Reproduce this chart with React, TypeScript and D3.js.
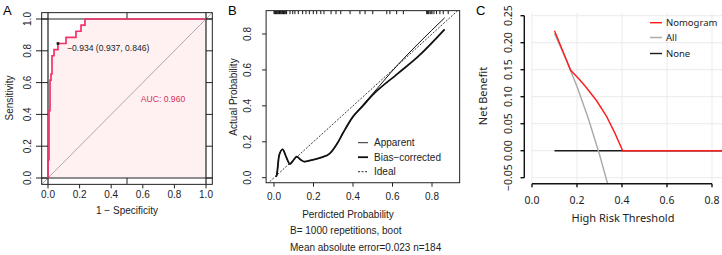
import React from "react";
import * as d3 from "d3";

// ---------- Panel A: ROC ----------
const rocFpr = [0, 0, 0.0063, 0.0127, 0.019, 0.0253, 0.038, 0.063, 0.114, 0.177, 0.209, 0.234, 1];
const rocTpr = [0, 0.115, 0.423, 0.615, 0.654, 0.769, 0.808, 0.846, 0.885, 0.923, 0.962, 1, 1];
const rocTicks = [0, 0.2, 0.4, 0.6, 0.8, 1.0];
const thrValue = -0.934;
const thrSpec = 0.937;
const thrSens = 0.846;
const aucValue = 0.96;

// ---------- Panel B: calibration ----------
const calX = [0.01, 0.014, 0.026, 0.044, 0.06, 0.081, 0.1, 0.115, 0.135, 0.153, 0.19, 0.241, 0.283, 0.32, 0.35, 0.4, 0.45, 0.49, 0.628, 0.729, 0.864];
const biasY = [0.005, 0.015, 0.125, 0.158, 0.12, 0.076, 0.1, 0.117, 0.1, 0.089, 0.098, 0.113, 0.135, 0.19, 0.25, 0.34, 0.4, 0.45, 0.581, 0.674, 0.826];
const apparentY = [0.005, 0.015, 0.125, 0.158, 0.12, 0.076, 0.1, 0.117, 0.1, 0.089, 0.098, 0.113, 0.135, 0.19, 0.25, 0.34, 0.405, 0.455, 0.63, 0.745, 0.89];
const rugX = [0.0, 0.004, 0.008, 0.012, 0.016, 0.02, 0.024, 0.028, 0.032, 0.036, 0.04, 0.044, 0.048, 0.052, 0.056, 0.06, 0.064,
  0.081, 0.095, 0.106, 0.123, 0.145, 0.162, 0.179, 0.199, 0.216, 0.237, 0.253, 0.289, 0.314, 0.338, 0.385, 0.435, 0.461, 0.5,
  0.571, 0.587, 0.621, 0.655, 0.773, 0.778, 0.783, 0.79, 0.795, 0.8, 0.81, 0.823, 0.84, 0.857, 0.882];
const calTicks = [0, 0.2, 0.4, 0.6, 0.8];
const calLegend = ["Apparent", "Bias\u2212corrected", "Ideal"];

// ---------- Panel C: DCA ----------
const ntX = [0.1, 0.172, 0.213, 0.243, 0.288, 0.332, 0.369, 0.403, 0.5, 0.6, 0.7, 0.8, 0.86];
const ntY = [0.222, 0.149, 0.131, 0.116, 0.092, 0.063, 0.032, 0, 0, 0, 0, 0, 0];
const allX = [0.1, 0.15, 0.2, 0.25, 0.3, 0.336];
const allY = [0.217, 0.17, 0.119, 0.06, -0.007, -0.061];
const noneX = [0.1, 0.86];
const noneY = [0, 0];
const dcaXTicks = [0, 0.2, 0.4, 0.6, 0.8];
const dcaYTicks = [-0.05, 0, 0.05, 0.1, 0.15, 0.2, 0.25];
const dcaLegend = ["Nomogram", "All", "None"];

const FA = "'Liberation Sans', Arial, Helvetica, sans-serif";
const FC = "'Noto Sans', 'Open Sans', sans-serif";
const ROC = "#F5316A";

export default function App() {
  // Panel A scales
  const ax = d3.scaleLinear().domain([0, 1]).range([48, 206]);
  const ay = d3.scaleLinear().domain([0, 1]).range([178, 19]);
  const aL = ax(-0.04), aR = ax(1.04), aT = ay(1.04), aB = ay(-0.04);
  const rocPts = rocFpr.map((f, i) => [f, rocTpr[i]] as [number, number]);
  const rocLine = d3.line<[number, number]>().x(d => ax(d[0])).y(d => ay(d[1])).curve(d3.curveStepAfter);
  const rocArea = d3.area<[number, number]>().x(d => ax(d[0])).y0(ay(0)).y1(d => ay(d[1])).curve(d3.curveStepAfter);
  const thrX = ax(1 - thrSpec), thrY = ay(thrSens);

  // Panel B scales
  const bx = d3.scaleLinear().domain([0, 0.8]).range([274, 432]);
  const by = d3.scaleLinear().domain([0, 0.8]).range([177.7, 34]);
  const bL = bx(-0.04), bR = bx(0.94), bT = by(0.93), bB = by(-0.028);
  const calLine = (ys: number[]) =>
    d3.line<number>().x((_, i) => bx(calX[i])).y(d => by(d)).curve(d3.curveMonotoneX)(ys) || "";

  // Panel C scales
  const cx = d3.scaleLinear().domain([0, 0.8]).range([532, 712]);
  const cy = d3.scaleLinear().domain([-0.05, 0.25]).range([177.7, 15.7]);
  const cBottom = 183.7;
  const cLine = (xs: number[], ys: number[]) =>
    d3.line<number>().x((_, i) => cx(xs[i])).y(d => cy(d))(ys) || "";

  const legB = [142.7, 157.2, 171.7];
  const legC = [22.7, 37.5, 53.5];
  const legCColors = ["#FF1A1A", "#A8A8A8", "#1A1A1A"];

  return (
    <svg width={722} height={255} style={{ position: "absolute", left: 0, top: 0, background: "#fff" }}>
      <defs>
        <clipPath id="clipA"><rect x={aL} y={aT} width={aR - aL} height={aB - aT} /></clipPath>
        <clipPath id="clipB"><rect x={bL} y={bT} width={bR - bL} height={bB - bT} /></clipPath>
        <clipPath id="clipC"><rect x={520} y={0} width={202} height={cBottom - 0} /></clipPath>
      </defs>
      <rect x={0} y={0} width={722} height={255} fill="#fff" />

      {/* Panel letters */}
      <text x={3} y={15} fontFamily={FA} fontSize={13}>A</text>
      <text x={228} y={15} fontFamily={FA} fontSize={13}>B</text>
      <text x={476} y={15} fontFamily={FA} fontSize={13}>C</text>

      {/* ===== Panel A ===== */}
      <g clipPath="url(#clipA)">
        <path d={rocArea(rocPts) || ""} fill="#FFF1F1" />
        <line x1={ax(-0.04)} y1={ay(-0.04)} x2={ax(1.04)} y2={ay(1.04)} stroke="#AAAAAA" strokeWidth={1} />
      </g>
      <rect x={aL} y={aT} width={aR - aL} height={aB - aT} fill="none" stroke="#222" strokeWidth={1} />
      <line x1={aL} x2={aR} y1={ay(0)} y2={ay(0)} stroke="#222" strokeWidth={1.2} />
      <line x1={aL} x2={aR} y1={ay(1)} y2={ay(1)} stroke="#222" strokeWidth={1.2} />
      <line x1={ax(0)} x2={ax(0)} y1={aT} y2={aB} stroke="#222" strokeWidth={1.2} />
      <line x1={ax(1)} x2={ax(1)} y1={aT} y2={aB} stroke="#222" strokeWidth={1.2} />
      <line x1={ax(0.5)} x2={ax(0.5)} y1={aT} y2={ay(1)} stroke="#222" strokeWidth={1} />
      <line x1={ax(0.5)} x2={ax(0.5)} y1={ay(0)} y2={aB} stroke="#222" strokeWidth={1} />
      {rocTicks.map(t => (
        <g key={"ay" + t}>
          <line x1={36} x2={ax(0)} y1={ay(t)} y2={ay(t)} stroke="#222" strokeWidth={1} />
          <line x1={ax(1)} x2={aR} y1={ay(t)} y2={ay(t)} stroke="#222" strokeWidth={1} />
          <text transform={`translate(${31},${ay(t)}) rotate(-90)`} textAnchor="middle" fontFamily={FA} fontSize={10} fill="#222">{t.toFixed(1)}</text>
          <line x1={ax(t)} x2={ax(t)} y1={aB} y2={aB + 4} stroke="#222" strokeWidth={1} />
          <text x={ax(t)} y={197.5} textAnchor="middle" fontFamily={FA} fontSize={10} fill="#222">{t.toFixed(1)}</text>
        </g>
      ))}
      <path d={rocLine(rocPts) || ""} fill="none" stroke={ROC} strokeWidth={1.7} />
      <rect x={thrX - 1.3} y={thrY - 1.3} width={2.6} height={2.6} fill="#111" />
      <text x={thrX + 9} y={thrY + 8} fontFamily={FA} fontSize={8.6} fill="#222">
        {`\u2212${Math.abs(thrValue).toFixed(3)} (${thrSpec.toFixed(3)}, ${thrSens.toFixed(3)})`}
      </text>
      <text x={163} y={102} textAnchor="middle" fontFamily={FA} fontSize={8.6} fill="#D2305C">{`AUC: ${aucValue.toFixed(3)}`}</text>
      <text transform={`translate(13,98) rotate(-90)`} textAnchor="middle" fontFamily={FA} fontSize={10} fill="#222">Sensitivity</text>
      <text x={127} y={213.5} textAnchor="middle" fontFamily={FA} fontSize={10} fill="#222">1 − Specificity</text>

      {/* ===== Panel B ===== */}
      <g clipPath="url(#clipB)">
        <line x1={bx(-0.1)} y1={by(-0.1)} x2={bx(1)} y2={by(1)} stroke="#222" strokeWidth={0.9} strokeDasharray="2,1.5" />
        <path d={calLine(apparentY)} fill="none" stroke="#111" strokeWidth={1} />
        <path d={calLine(biasY)} fill="none" stroke="#111" strokeWidth={1.8} />
        {rugX.map((r, i) => (
          <line key={"rug" + i} x1={bx(r)} x2={bx(r)} y1={bT} y2={bT + 3.5} stroke="#111" strokeWidth={1} />
        ))}
      </g>
      <rect x={bL} y={bT} width={bR - bL} height={bB - bT} fill="none" stroke="#222" strokeWidth={1} />
      {calTicks.map(t => (
        <g key={"b" + t}>
          <line x1={bL - 4} x2={bL} y1={by(t)} y2={by(t)} stroke="#222" strokeWidth={1} />
          <text transform={`translate(${250.5},${by(t)}) rotate(-90)`} textAnchor="middle" fontFamily={FA} fontSize={10} fill="#222">{t.toFixed(1)}</text>
          <line x1={bx(t)} x2={bx(t)} y1={bB} y2={bB + 4} stroke="#222" strokeWidth={1} />
          <text x={bx(t)} y={199.5} textAnchor="middle" fontFamily={FA} fontSize={10} fill="#222">{t.toFixed(1)}</text>
        </g>
      ))}
      {calLegend.map((lab, i) => (
        <g key={"lb" + i}>
          <line x1={358} x2={368} y1={legB[i]} y2={legB[i]} stroke="#111"
            strokeWidth={i === 1 ? 1.8 : 0.9} strokeDasharray={i === 2 ? "2,1.5" : undefined} />
          <text x={374} y={legB[i] + 3.5} fontFamily={FA} fontSize={10} fill="#222">{lab}</text>
        </g>
      ))}
      <text transform={`translate(237,97) rotate(-90)`} textAnchor="middle" fontFamily={FA} fontSize={10} fill="#222">Actual Probability</text>
      <text x={348} y={217.5} textAnchor="middle" fontFamily={FA} fontSize={10} fill="#222">Perdicted Probability</text>
      <text x={290} y={233.5} fontFamily={FA} fontSize={10} fill="#222">B= 1000 repetitions, boot</text>
      <text x={290} y={250.5} fontFamily={FA} fontSize={10} fill="#222">Mean absolute error=0.023 n=184</text>

      {/* ===== Panel C ===== */}
      {dcaYTicks.map(t => (
        <line key={"gy" + t} x1={cx(0)} x2={722} y1={cy(t)} y2={cy(t)} stroke="#EBEBEB" strokeWidth={1} />
      ))}
      {dcaXTicks.map(t => (
        <line key={"gx" + t} x1={cx(t)} x2={cx(t)} y1={13} y2={cBottom} stroke="#EBEBEB" strokeWidth={1} />
      ))}
      <g clipPath="url(#clipC)">
        <path d={cLine(noneX, noneY)} fill="none" stroke="#1A1A1A" strokeWidth={1.4} />
        <path d={cLine(allX, allY)} fill="none" stroke="#A8A8A8" strokeWidth={1.4} />
        <path d={cLine(ntX, ntY)} fill="none" stroke="#FF1A1A" strokeWidth={1.4} />
      </g>
      <line x1={524.3} x2={524.3} y1={cy(0.25)} y2={cy(-0.05)} stroke="#111" strokeWidth={1.4} />
      {dcaYTicks.map(t => (
        <g key={"cy" + t}>
          <line x1={520.5} x2={524.3} y1={cy(t)} y2={cy(t)} stroke="#111" strokeWidth={1.4} />
          <text transform={`translate(${511.5},${cy(t)}) rotate(-90)`} textAnchor="middle" fontFamily={FC} fontSize={10.5} fill="#222">
            {t < 0 ? `\u2212${Math.abs(t).toFixed(2)}` : t.toFixed(2)}
          </text>
        </g>
      ))}
      <line x1={cx(0)} x2={cx(0.8)} y1={cBottom} y2={cBottom} stroke="#111" strokeWidth={1.4} />
      {dcaXTicks.map(t => (
        <g key={"cx" + t}>
          <line x1={cx(t)} x2={cx(t)} y1={cBottom} y2={cBottom + 3.5} stroke="#111" strokeWidth={1.4} />
          <text x={cx(t)} y={203.5} textAnchor="middle" fontFamily={FC} fontSize={10.5} fill="#222">{t.toFixed(1)}</text>
        </g>
      ))}
      {dcaLegend.map((lab, i) => (
        <g key={"lc" + i}>
          <line x1={650} x2={662} y1={legC[i]} y2={legC[i]} stroke={legCColors[i]} strokeWidth={1.4} />
          <text x={666} y={legC[i] + 3.5} fontFamily={FC} fontSize={9.5} fill="#222">{lab}</text>
        </g>
      ))}
      <text transform={`translate(487,96) rotate(-90)`} textAnchor="middle" fontFamily={FC} fontSize={11} fill="#222">Net Benefit</text>
      <text x={623} y={222} textAnchor="middle" fontFamily={FC} fontSize={11} fill="#222">High Risk Threshold</text>
    </svg>
  );
}
